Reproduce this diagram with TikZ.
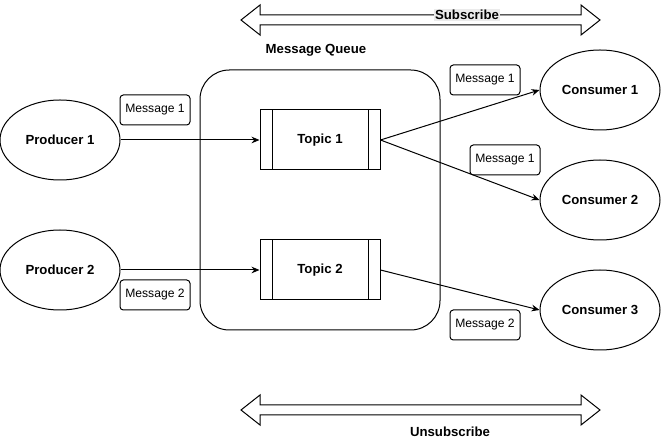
\documentclass[tikz,border=0pt]{standalone}
\usepackage{fontspec}
\setmainfont{Liberation Sans}
\usetikzlibrary{shapes.geometric, arrows.meta}

\tikzset{
    every node/.style={font=\fontsize{9.9}{12}\selectfont\bfseries},
    client/.style={draw, ellipse, line width=0.75pt, minimum width=90pt, minimum height=60pt, inner sep=0pt},
    topicbox/.style={draw, rectangle, line width=0.75pt, minimum width=90pt, minimum height=45pt, inner sep=0pt},
    msgbox/.style={draw, rectangle, rounded corners=2.5pt, line width=0.75pt, minimum width=52.5pt, minimum height=22.5pt, inner sep=0pt, font=\fontsize{9.1}{11}\selectfont},
    flow/.style={draw, line width=0.75pt, -{Stealth[length=6pt, width=5pt]}},
}

% block arrow with two heads, shaft centre at y = #1
\newcommand{\blockarrow}[1]{
    \path[draw, line width=0.75pt, line join=miter]
        (241,#1) -- ++(19,-15) -- ++(0,10) -- ++(321,0) -- ++(0,-10) -- (600,#1)
        -- ++(-19,15) -- ++(0,-10) -- ++(-321,0) -- ++(0,10) -- cycle;
}

\begin{document}
\begin{tikzpicture}[x=0.75pt, y=-0.75pt]

        \useasboundingbox (0,0) rectangle (661,441);

        % queue frame
        \path[draw, line width=0.75pt, rounded corners=22pt] (200,70) rectangle (440,330);
        \node (queue) at (316,50) {Message Queue};

        \node[client] (prod1) at (60,140) {Producer 1};
        \node[client] (prod2) at (60,270) {Producer 2};

        \node[topicbox] (topic1) at (320,140) {Topic 1};
        \node[topicbox] (topic2) at (320,270) {Topic 2};
        \path[draw, line width=0.75pt] (272,110) -- (272,170) (368,110) -- (368,170);
        \path[draw, line width=0.75pt] (272,240) -- (272,300) (368,240) -- (368,300);

        \node[client] (cons1) at (600,90) {Consumer 1};
        \node[client] (cons2) at (600,200) {Consumer 2};
        \node[client] (cons3) at (600,310) {Consumer 3};

        \node[msgbox] (msg1a) at (155,110) {Message 1};
        \node[msgbox] (msg2a) at (155,295) {Message 2};
        \node[msgbox] (msg1b) at (485,80) {Message 1};
        \node[msgbox] (msg1c) at (505,160) {Message 1};
        \node[msgbox] (msg2b) at (485,325) {Message 2};

        \path[flow] (prod1.east) -- (topic1.west);
        \path[flow] (prod2.east) -- (topic2.west);
        \path[flow] (topic1.east) -- (cons1.west);
        \path[flow] (topic1.east) -- (cons2.west);
        \path[flow] (topic2.east) -- (cons3.west);

        % subscribe / unsubscribe arrows
        \blockarrow{20}
        \blockarrow{410}
        \node[fill=black!8, inner sep=1pt] (sub) at (467,15) {Subscribe};
        \node (unsub) at (450,432) {Unsubscribe};

    \end{tikzpicture}
\end{document}
